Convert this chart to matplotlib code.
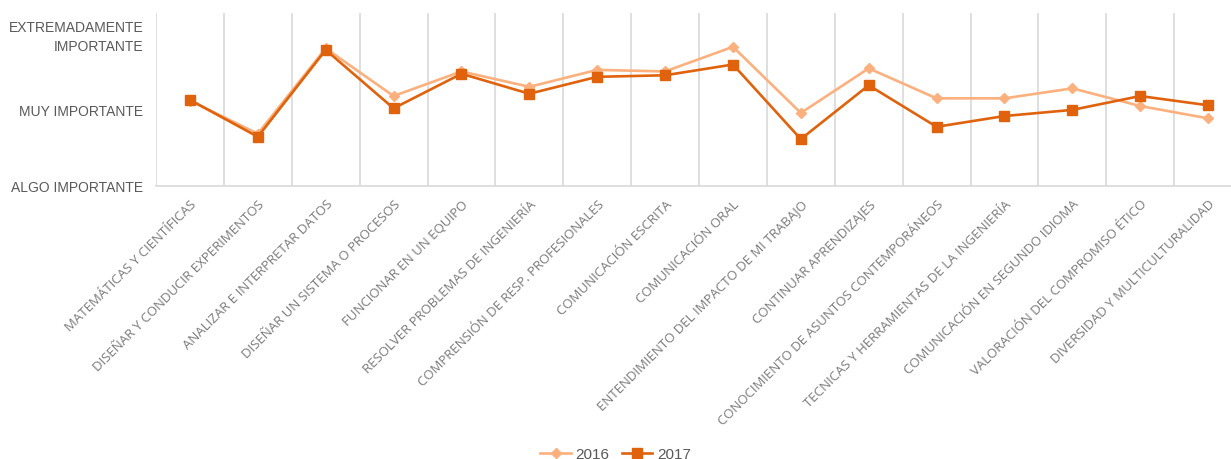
import numpy as np
import matplotlib
matplotlib.use("Agg")
import matplotlib.pyplot as plt

# categories (x axis)
categories = [
    "MATEMÁTICAS Y CIENTÍFICAS",
    "DISEÑAR Y CONDUCIR EXPERIMENTOS",
    "ANALIZAR E INTERPRETAR DATOS",
    "DISEÑAR UN SISTEMA O PROCESOS",
    "FUNCIONAR EN UN EQUIPO",
    "RESOLVER PROBLEMAS DE INGENIERÍA",
    "COMPRENSIÓN DE RESP. PROFESIONALES",
    "COMUNICACIÓN ESCRITA",
    "COMUNICACIÓN ORAL",
    "ENTENDIMIENTO DEL IMPACTO DE MI TRABAJO",
    "CONTINUAR APRENDIZAJES",
    "CONOCIMIENTO DE ASUNTOS CONTEMPORÁNEOS",
    "TECNICAS Y HERRAMIENTAS DE LA INGENIERÍA",
    "COMUNICACIÓN EN SEGUNDO IDIOMA",
    "VALORACIÓN DEL COMPROMISO ÉTICO",
    "DIVERSIDAD Y MULTICULTURALIDAD",
]

# scale: 1 = algo importante, 2 = muy importante, 3 = extremadamente importante
vals_2016 = [2.11, 1.68, 2.79, 2.17, 2.49, 2.29, 2.51, 2.49, 2.81, 1.95,
             2.53, 2.14, 2.14, 2.27, 2.04, 1.88]
vals_2017 = [2.12, 1.64, 2.77, 2.01, 2.46, 2.20, 2.42, 2.44, 2.58, 1.61,
             2.31, 1.77, 1.91, 1.99, 2.17, 2.05]

ytick_vals = [1, 2, 3]
ytick_labels = ["ALGO IMPORTANTE", "MUY IMPORTANTE", "EXTREMADAMENTE\nIMPORTANTE"]

c2016 = "#FBB07E"
c2017 = "#E0620D"
grey_text = "#595959"

fig = plt.figure(figsize=(12.31, 4.60), dpi=100)
W, H = 1231, 460
ax = fig.add_axes([156 / W, 273 / H, (1242 - 156) / W, 173 / H])

x = np.arange(len(categories))
ax.plot(x, vals_2016, color=c2016, lw=1.9, marker="D", ms=5,
        label="2016", zorder=3)
ax.plot(x, vals_2017, color=c2017, lw=1.9, marker="s", ms=7,
        label="2017", zorder=4)

ax.set_xlim(-0.5, len(categories) - 0.5)
ax.set_ylim(1, 3.25)

# vertical gridlines between categories
ax.set_xticks(np.arange(-0.5, len(categories), 1), minor=True)
ax.grid(True, which="minor", axis="x", color="#D9D9D9", lw=1.2)
ax.tick_params(axis="x", which="minor", length=0)

ax.set_xticks(x)
ax.set_xticklabels(categories, rotation=45, ha="right", va="top",
                   rotation_mode="anchor", fontsize=9.5, color="#7A7A7A",
                   family=["Open Sans", "DejaVu Sans"])
ax.tick_params(axis="x", which="major", length=0, pad=8)

ax.set_yticks(ytick_vals)
ax.set_yticklabels(ytick_labels, fontsize=10, color=grey_text,
                   family=["Liberation Sans", "DejaVu Sans"],
                   linespacing=1.5)
ax.tick_params(axis="y", length=0, pad=9)

for s in ["top", "right", "left"]:
    ax.spines[s].set_visible(False)
ax.spines["bottom"].set_color("#D9D9D9")
ax.spines["bottom"].set_linewidth(1.2)

fig.legend(loc="lower center", bbox_to_anchor=(0.5, -0.035), ncol=2,
           frameon=False, handlelength=2.0, columnspacing=0.8,
           handletextpad=0.3, labelcolor=grey_text,
           prop={"family": "Liberation Sans", "size": 11})

fig.savefig("out.png", dpi=100)
